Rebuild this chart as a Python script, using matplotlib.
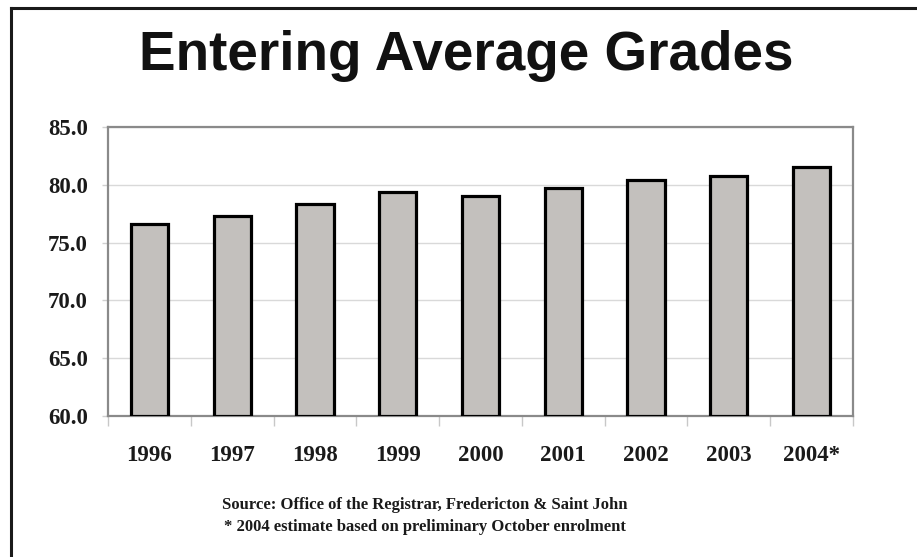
import matplotlib
matplotlib.use("Agg")
import matplotlib.pyplot as plt
from matplotlib.lines import Line2D
from matplotlib.ticker import FixedLocator

# Entering average grades by year
years = ["1996", "1997", "1998", "1999", "2000", "2001", "2002", "2003", "2004*"]
grades = [76.6, 77.3, 78.3, 79.4, 79.0, 79.7, 80.4, 80.8, 81.5]
y_ticks = [60.0, 65.0, 70.0, 75.0, 80.0, 85.0]

title = "Entering Average Grades"
source_lines = [
    "Source: Office of the Registrar, Fredericton & Saint John",
    "* 2004 estimate based on preliminary October enrolment",
]

W, H = 917, 557
fig = plt.figure(figsize=(W / 100, H / 100), dpi=100)
fig.patch.set_facecolor("white")

ax = fig.add_axes([108 / W, 1 - 416 / H, (853 - 108) / W, (416 - 127) / H])

x = range(len(years))
ax.bar(x, [g - y_ticks[0] for g in grades], bottom=y_ticks[0], width=0.45,
       color="#c3c0bd", edgecolor="black", linewidth=2.3, zorder=3)

ax.set_xlim(-0.5, len(years) - 0.5)
ax.set_ylim(y_ticks[0], y_ticks[-1])
ax.set_yticks(y_ticks)
ax.set_yticklabels([f"{v:.1f}" for v in y_ticks])
ax.set_xticks(list(x))
ax.set_xticklabels(years)
ax.xaxis.set_minor_locator(FixedLocator([i - 0.5 for i in range(len(years) + 1)]))

ax.grid(axis="y", color="#d9d9d9", linewidth=1.0, zorder=0)
for s in ax.spines.values():
    s.set_color("#8a8a8a")
    s.set_linewidth(1.6)

serif = ["Liberation Serif", "DejaVu Serif"]
ax.tick_params(axis="x", which="major", length=0, pad=21)
ax.tick_params(axis="x", which="minor", length=7, color="#c8c8c8", width=1)
ax.tick_params(axis="y", which="major", length=4, color="#d0d0d0", width=1, pad=10.4)
for lab in ax.get_xticklabels() + ax.get_yticklabels():
    lab.set_fontfamily(serif)
    lab.set_fontweight("bold")
    lab.set_fontsize(16.5)
    lab.set_color("#1a1a1a")

fig.text(466 / W, 1 - 70 / H, title, ha="center", va="baseline",
         fontsize=39.5, fontweight="bold", family=["Liberation Sans", "DejaVu Sans"],
         color="#111111")

for i, line in enumerate(source_lines):
    fig.text(425 / W, 1 - (505 + 22 * i) / H, line, ha="center", va="center",
             fontsize=12, fontweight="bold", family=serif, color="#1a1a1a")

# Page frame: left and top rules
fig.add_artist(Line2D([11 / W, 11 / W], [0, 1 - 8 / H], transform=fig.transFigure,
                      color="#1a1a1a", linewidth=2.2))
fig.add_artist(Line2D([11 / W, 1], [1 - 8 / H, 1 - 8 / H], transform=fig.transFigure,
                      color="#1a1a1a", linewidth=2.2))

fig.savefig("out.png", dpi=100, facecolor="white")
